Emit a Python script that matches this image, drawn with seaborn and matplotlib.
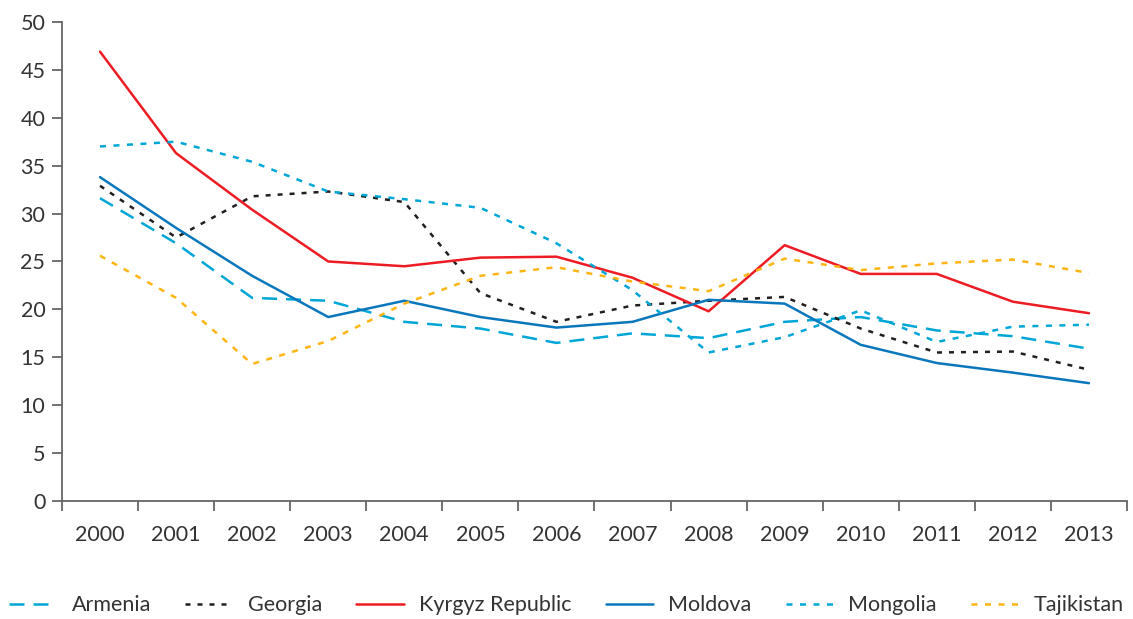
import numpy as np
import pandas as pd
import matplotlib
matplotlib.use("Agg")
import matplotlib.pyplot as plt
import seaborn as sns

# ------------------------------------------
# DATA
# ------------------------------------------
years = list(range(2000, 2014))

armenia = [31.6, 26.9, 21.2, 20.9, 18.7, 18.0, 16.5, 17.5, 17.0, 18.7, 19.2, 17.8, 17.2, 15.9]
georgia = [32.9, 27.5, 31.8, 32.3, 31.2, 21.7, 18.7, 20.4, 20.9, 21.3, 18.0, 15.5, 15.6, 13.7]
kyrgyz = [46.9, 36.3, 30.4, 25.0, 24.5, 25.4, 25.5, 23.3, 19.8, 26.7, 23.7, 23.7, 20.8, 19.6]
moldova = [33.8, 28.5, 23.5, 19.2, 20.9, 19.2, 18.1, 18.7, 21.0, 20.6, 16.3, 14.4, 13.4, 12.3]
mongolia = [37.0, 37.5, 35.4, 32.3, 31.5, 30.6, 26.9, 22.0, 15.5, 17.1, 19.9, 16.6, 18.2, 18.4]
tajikistan = [25.6, 21.2, 14.3, 16.7, 20.6, 23.5, 24.4, 22.9, 21.9, 25.3, 24.1, 24.8, 25.2, 23.8]

countries = ["Armenia", "Georgia", "Kyrgyz Republic", "Moldova", "Mongolia", "Tajikistan"]
series = [armenia, georgia, kyrgyz, moldova, mongolia, tajikistan]

df = pd.DataFrame({
    "year": np.tile(years, len(countries)),
    "value": np.concatenate(series),
    "country": np.repeat(countries, len(years)),
})

palette = {
    "Armenia": "#00A6D6",
    "Georgia": "#231F20",
    "Kyrgyz Republic": "#ED1C24",
    "Moldova": "#0A77BC",
    "Mongolia": "#00A6D6",
    "Tajikistan": "#FDB515",
}
dashes = {
    "Armenia": (6, 3.6),
    "Georgia": (2, 2.8),
    "Kyrgyz Republic": "",
    "Moldova": "",
    "Mongolia": (2.4, 3.0),
    "Tajikistan": (2.4, 3.0),
}

# ------------------------------------------
# PLOT
# ------------------------------------------
sns.set_style("white")
plt.rcParams["font.family"] = ["Lato", "DejaVu Sans"]
text_color = "#333333"
axis_color = "#666666"

fig = plt.figure(figsize=(11.33, 6.19), dpi=100)
ax = fig.add_axes([0.0547, 0.1906, 0.94, 0.774])

sns.lineplot(
    data=df, x="year", y="value",
    hue="country", style="country",
    palette=palette, dashes=dashes,
    hue_order=countries, style_order=countries,
    linewidth=1.8, ax=ax,
)

ax.set_xlim(1999.5, 2013.5)
ax.set_ylim(0, 50)
ax.set_xlabel("")
ax.set_ylabel("")

ax.set_xticks(years)
ax.set_xticklabels([str(y) for y in years])
ax.set_xticks(np.arange(1999.5, 2014, 1), minor=True)
ax.set_yticks(range(0, 51, 5))

ax.tick_params(axis="x", which="both", bottom=True)
ax.tick_params(axis="y", which="both", left=True)
ax.tick_params(axis="x", which="major", length=0, pad=17, labelsize=15.5, labelcolor=text_color)
ax.tick_params(axis="x", which="minor", length=7, width=1.3, color=axis_color, direction="out")
ax.tick_params(axis="y", length=7, width=1.3, color=axis_color, direction="out",
               labelsize=15.5, labelcolor=text_color, pad=5)

for side in ["top", "right"]:
    ax.spines[side].set_visible(False)
for side in ["left", "bottom"]:
    ax.spines[side].set_color(axis_color)
    ax.spines[side].set_linewidth(1.3)

handles, labels = ax.get_legend_handles_labels()
ax.get_legend().remove()
fig.legend(
    handles, labels, loc="lower center", bbox_to_anchor=(0.5, -0.025),
    ncol=6, frameon=False, fontsize=15.5, labelcolor=text_color,
    handlelength=2.2, handletextpad=0.7, columnspacing=1.6,
)

fig.savefig("out.png", dpi=100)
